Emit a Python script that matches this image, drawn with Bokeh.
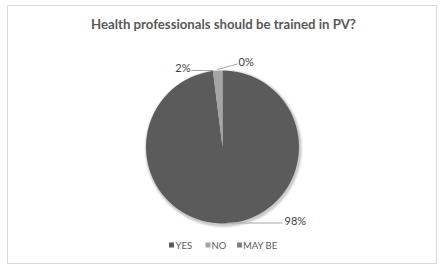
import numpy as np
from bokeh.plotting import figure
from bokeh.models import Range1d, ColumnDataSource
from bokeh.core.properties import value
from bokeh.embed import file_html
from bokeh.resources import INLINE

title = "Health professionals should be trained in PV?"
categories = ["YES", "NO", "MAY BE"]
percent = [98, 2, 0]
colors = ["#5b5b5b", "#a5a5a5", "#7f7f7f"]

W, H = 444, 269
FONT = "Lato"
p = figure(width=W, height=H, x_range=Range1d(0, W), y_range=Range1d(0, H),
           output_backend="svg", toolbar_location=None, min_border=0)
p.axis.visible = False
p.grid.visible = False
p.outline_line_color = None
p.background_fill_color = "white"
p.border_fill_color = "white"


def Y(py):
    return H - py


# chart border
p.quad(left=7, right=436, bottom=Y(263), top=Y(5), fill_color=None,
       line_color="#d9d9d9", line_width=1)

# title
p.text(x=[223], y=[Y(23)], text=[title], text_align="center", text_baseline="middle",
       text_font=value(FONT), text_font_style="bold", text_font_size="13.2px",
       text_color="#595959")

cx, cy, r = 222, Y(146.5), 76.5
fr = np.array(percent, dtype=float) / sum(percent)
ends = np.pi / 2 - 2 * np.pi * np.cumsum(fr)
starts = np.concatenate([[np.pi / 2], ends[:-1]])

# soft shadow
for d, a in [(3, 0.05), (2, 0.07), (1, 0.09)]:
    p.circle(x=[cx + 1], y=[cy - 1.5], radius=r + d, fill_color="black",
             fill_alpha=a, line_color=None)

keep = fr > 0
src = ColumnDataSource(dict(
    start=ends[keep], end=starts[keep],
    color=[c for c, k in zip(colors, keep) if k],
))
p.wedge(x=cx, y=cy, radius=r, start_angle="start", end_angle="end",
        fill_color="color", line_color="#5b5b5b", line_width=0.5, line_alpha=0.0,
        source=src)

# data labels with leader lines
lab_text = [f"{v}%" for v in percent]
lab_x = [284, 190, 238]
lab_y = [Y(220), Y(66.5), Y(61)]
lab_align = ["left", "right", "left"]
p.text(x=lab_x, y=lab_y, text=lab_text, text_align=lab_align, text_baseline="middle",
       text_font=value(FONT), text_font_size="11px", text_color="#404040")

p.multi_line(xs=[[227, 282], [191, 213], [217, 237]],
             ys=[[Y(222.5), Y(222.5)], [Y(70), Y(70)], [Y(69), Y(63.5)]],
             line_color="#a6a6a6", line_width=1)

# legend
leg_sq_x = [171, 207.5, 239]
leg_tx_x = [175, 211, 242.5]
p.rect(x=leg_sq_x, y=[Y(244.5)] * 3, width=5, height=5, fill_color=colors, line_color=None)
p.text(x=leg_tx_x, y=[Y(244.5)] * 3, text=categories, text_align="left",
       text_baseline="middle", text_font=value(FONT), text_font_size="9.5px",
       text_color="#595959")

open("out.html", "w").write(file_html(p, INLINE))
